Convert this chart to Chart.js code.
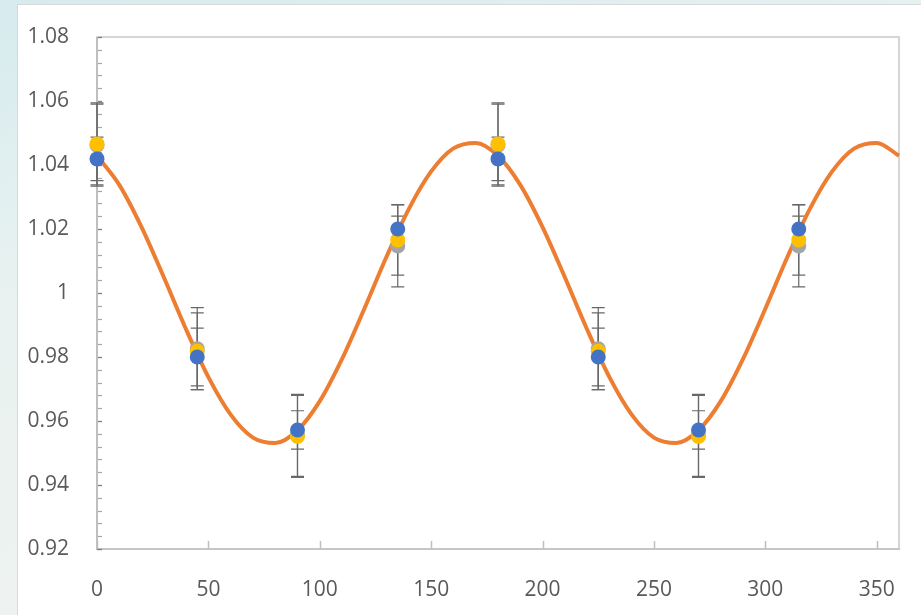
<!DOCTYPE html>
<html>
<head>
<meta charset="utf-8">
<script src="https://cdn.jsdelivr.net/npm/chart.js@4"></script>
<style>
  html, body { margin: 0; padding: 0; }
  body {
    width: 921px; height: 615px; overflow: hidden; position: relative;
    background: linear-gradient(165deg, #d6ebee 0%, #e9f2f1 35%, #f1f3ef 100%);
  }
  #panel {
    position: absolute; left: 17px; top: 4px; width: 920px; height: 620px;
    background: #ffffff; border: 1px solid #d9d9d9;
  }
  #chart { position: absolute; left: 0; top: 0; }
</style>
</head>
<body>
<div id="panel"></div>
<canvas id="chart" width="921" height="615"></canvas>
<script>
// measured angles
const angles = [0, 45, 90, 135, 180, 225, 270, 315];

// three measurement series
const grayValues   = [1.0462, 0.9826, 0.9555, 1.0147, 1.0462, 0.9826, 0.9555, 1.0147];
const yellowValues = [1.0466, 0.9818, 0.9552, 1.0166, 1.0466, 0.9818, 0.9552, 1.0166];
const blueValues   = [1.0419, 0.9800, 0.9572, 1.0200, 1.0419, 0.9800, 0.9572, 1.0200];

const grayErrors   = [0.0128, 0.0128, 0.0128, 0.0128, 0.0128, 0.0128, 0.0128, 0.0128];
const yellowErrors = [0.0128, 0.0120, 0.0128, 0.0110, 0.0128, 0.0120, 0.0128, 0.0110];
const blueErrors   = [0.0068, 0.0090, 0.0060, 0.0040, 0.0068, 0.0090, 0.0060, 0.0040];

// fitted curve, read every 10 degrees
const curveAngles = [0, 10, 20, 30, 40, 50, 60, 70, 80, 90, 100, 110, 120, 130, 140, 150, 160, 170,
                     180, 190, 200, 210, 220, 230, 240, 250, 260, 270, 280, 290, 300, 310, 320, 330, 340, 350, 360];
const curveValues = [1.0429, 1.0338, 1.0206, 1.0049, 0.9886, 0.9737, 0.9620, 0.9548, 0.9531, 0.9571,
                     0.9662, 0.9794, 0.9951, 1.0114, 1.0263, 1.0380, 1.0452, 1.0469,
                     1.0429, 1.0338, 1.0206, 1.0049, 0.9886, 0.9737, 0.9620, 0.9548, 0.9531, 0.9571,
                     0.9662, 0.9794, 0.9951, 1.0114, 1.0263, 1.0380, 1.0452, 1.0469, 1.0429];

const xTicks = [0, 50, 100, 150, 200, 250, 300, 350];
const yTicks = [0.92, 0.94, 0.96, 0.98, 1.00, 1.02, 1.04, 1.06, 1.08];

function toPoints(xs, ys) {
    return xs.map((x, i) => ({ x: x, y: ys[i] }));
}

const errorSets = [
    { values: grayValues, errors: grayErrors },
    { values: yellowValues, errors: yellowErrors },
    { values: blueValues, errors: blueErrors }
];

const errorBarPlugin = {
    id: "errorBars",
    beforeDatasetsDraw(chart) {
        const ctx = chart.ctx;
        const xs = chart.scales.x;
        const ys = chart.scales.y;
        ctx.save();
        ctx.strokeStyle = "#686868";
        ctx.lineWidth = 1.2;
        errorSets.forEach(set => {
            angles.forEach((a, i) => {
                const px = xs.getPixelForValue(a);
                const top = ys.getPixelForValue(set.values[i] + set.errors[i]);
                const bot = ys.getPixelForValue(set.values[i] - set.errors[i]);
                ctx.beginPath();
                ctx.moveTo(px, top); ctx.lineTo(px, bot);
                ctx.moveTo(px - 6.5, top); ctx.lineTo(px + 6.5, top);
                ctx.moveTo(px - 6.5, bot); ctx.lineTo(px + 6.5, bot);
                ctx.stroke();
            });
        });
        ctx.restore();
    }
};

const frameTicksPlugin = {
    id: "frameTicks",
    beforeDatasetsDraw(chart) {
        const ctx = chart.ctx;
        const area = chart.chartArea;
        const xs = chart.scales.x;
        const ys = chart.scales.y;
        ctx.save();
        // plot frame
        ctx.strokeStyle = "#c9c9c9";
        ctx.lineWidth = 1.5;
        ctx.strokeRect(area.left, area.top, area.right - area.left, area.bottom - area.top);
        // minor y ticks, five per major step
        ctx.strokeStyle = "#a6a6a6";
        ctx.lineWidth = 1.2;
        for (let k = 0; k <= 40; k++) {
            const py = Math.round(ys.getPixelForValue(0.92 + k * 0.004)) + 0.5;
            ctx.beginPath();
            ctx.moveTo(area.left, py); ctx.lineTo(area.left + 5, py);
            ctx.stroke();
        }
        // major y ticks
        ctx.strokeStyle = "#7f7f7f";
        yTicks.forEach(v => {
            const py = Math.round(ys.getPixelForValue(v)) + 0.5;
            ctx.beginPath();
            ctx.moveTo(area.left, py); ctx.lineTo(area.left + 5, py);
            ctx.stroke();
        });
        // major x ticks
        ctx.strokeStyle = "#bfbfbf";
        ctx.lineWidth = 1.5;
        xTicks.forEach(v => {
            const px = Math.round(xs.getPixelForValue(v)) + 0.5;
            ctx.beginPath();
            ctx.moveTo(px, area.bottom); ctx.lineTo(px, area.bottom - 8);
            ctx.stroke();
        });
        // y axis line
        ctx.strokeStyle = "#bfbfbf";
        ctx.lineWidth = 2;
        ctx.beginPath();
        ctx.moveTo(area.left, area.top); ctx.lineTo(area.left, area.bottom);
        ctx.stroke();
        ctx.restore();
    }
};

const chart = new Chart("chart",
{
    type: "scatter",
    data:
    {
        datasets:
        [
            {
                label: "Blue",
                data: toPoints(angles, blueValues),
                backgroundColor: "#4472c4",
                borderColor: "#4472c4",
                pointRadius: 7.5,
                pointBorderWidth: 0,
                order: 0
            },
            {
                label: "Yellow",
                data: toPoints(angles, yellowValues),
                backgroundColor: "#ffc000",
                borderColor: "#ffc000",
                pointRadius: 7.5,
                pointBorderWidth: 0,
                order: 1
            },
            {
                label: "Gray",
                data: toPoints(angles, grayValues),
                backgroundColor: "#a5a5a5",
                borderColor: "#a5a5a5",
                pointRadius: 7.5,
                pointBorderWidth: 0,
                order: 2
            },
            {
                label: "Fit",
                data: toPoints(curveAngles, curveValues),
                showLine: true,
                borderColor: "#ed7d31",
                borderWidth: 4,
                pointRadius: 0,
                cubicInterpolationMode: "monotone",
                order: 3
            }
        ]
    },
    options:
    {
        responsive: false,
        animation: false,
        devicePixelRatio: 1,
        clip: false,
        layout:
        {
            padding: { left: 0, top: 37, right: 22, bottom: 0 }
        },
        plugins:
        {
            legend: { display: false },
            tooltip: { enabled: false }
        },
        scales:
        {
            x:
            {
                type: "linear",
                min: 0,
                max: 360,
                grid: { display: false },
                border: { display: true, color: "#bfbfbf", width: 2 },
                afterBuildTicks: scale => { scale.ticks = xTicks.map(v => ({ value: v })); },
                afterFit: scale => { scale.height = 66; },
                ticks:
                {
                    padding: 20,
                    color: "#595959",
                    font: { family: "'Open Sans'", size: 21 },
                    maxRotation: 0
                }
            },
            y:
            {
                type: "linear",
                min: 0.92,
                max: 1.08,
                grid: { display: false },
                border: { display: false },
                afterBuildTicks: scale => { scale.ticks = yTicks.map(v => ({ value: v })); },
                afterFit: scale => { scale.width = 97; },
                ticks:
                {
                    padding: 20,
                    color: "#595959",
                    font: { family: "'Open Sans'", size: 21 },
                    callback: v => String(Number(v.toFixed(2)))
                }
            }
        }
    },
    plugins: [frameTicksPlugin, errorBarPlugin]
});
</script>
</body>
</html>
